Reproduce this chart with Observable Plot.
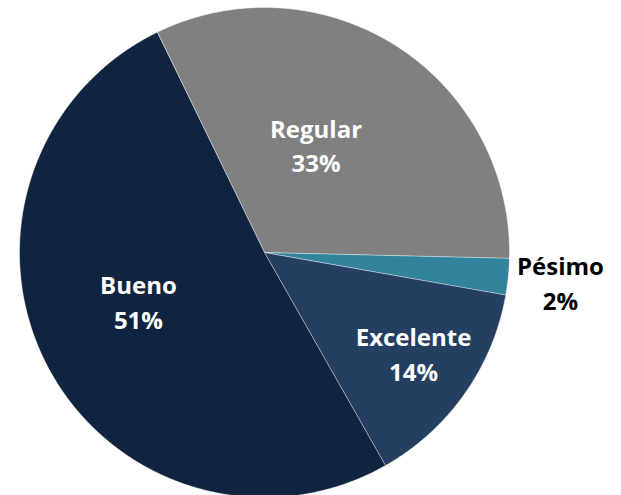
<!DOCTYPE html>
<html>
<head>
<meta charset="utf-8">
<script src="https://cdn.jsdelivr.net/npm/d3@7"></script>
<script src="https://cdn.jsdelivr.net/npm/@observablehq/plot@0.6"></script>
<style>
  html, body { margin: 0; padding: 0; background: #fff; }
  #chart svg { display: block; }
</style>
</head>
<body>
<div id="chart"></div>
<script>
// ---- data ----
const categories = ["Regular", "Pésimo", "Excelente", "Bueno"];
const shares = [32.6, 2.4, 14.0, 51.0];
const percentLabels = ["33%", "2%", "14%", "51%"];
const colors = ["#808080", "#31849B", "#243F60", "#10243F"];

// ---- layout (not data) ----
const startDeg = -26;
const labelLayout = {
  "Regular":   {r: 0.48, dAng: -6.7, inside: true},
  "Pésimo":    {r: 1.215, dAng: 0.5, inside: false},
  "Excelente": {r: 0.74, dAng: -0.5, inside: true},
  "Bueno":     {r: 0.555, dAng: 5.8, inside: true}
};

const rad = Math.PI / 180;
const pie = d3.pie().sort(null).value(d => d.share)
  .startAngle(startDeg * rad).endAngle((startDeg + 360) * rad);
const table = categories.map((name, i) => ({name, share: shares[i], label: percentLabels[i]}));
const arcs = pie(table);

// polygon points of each slice in unit coordinates (y up)
const points = [];
for (const a of arcs) {
  const name = a.data.name;
  points.push({name, x: 0, y: 0});
  const n = Math.max(2, Math.ceil((a.endAngle - a.startAngle) / rad / 0.5));
  for (let k = 0; k <= n; k++) {
    const t = a.startAngle + (a.endAngle - a.startAngle) * k / n;
    points.push({name, x: Math.sin(t), y: Math.cos(t)});
  }
}

const labels = arcs.map(a => {
  const L = labelLayout[a.data.name];
  const mid = (a.startAngle + a.endAngle) / 2 + L.dAng * rad;
  return {
    name: a.data.name,
    text: a.data.name + "\n" + a.data.label,
    x: L.r * Math.sin(mid),
    y: L.r * Math.cos(mid),
    inside: L.inside
  };
});

const font = "'Open Sans', 'DejaVu Sans', sans-serif";
const textOpts = {fontSize: 24, fontWeight: "bold", lineHeight: 1.45, fontFamily: font, dy: -3};

const chart = Plot.plot({
  width: 621,
  height: 495,
  margin: 0,
  style: {background: "#fff", fontFamily: font},
  x: {domain: [-1, 1], range: [19, 509], axis: null},
  y: {domain: [-1, 1], range: [497, 7], axis: null},
  color: {domain: categories, range: colors},
  marks: [
    Plot.line(points, {
      x: "x", y: "y", z: "name", fill: "name",
      stroke: "#ffffff", strokeOpacity: 0.55, strokeWidth: 0.8,
      curve: "linear-closed"
    }),
    Plot.text(labels.filter(d => d.inside), {
      x: "x", y: "y", text: "text", fill: "white", ...textOpts
    }),
    Plot.text(labels.filter(d => !d.inside), {
      x: "x", y: "y", text: "text", fill: "black", ...textOpts
    })
  ]
});
document.getElementById("chart").appendChild(chart);
</script>
</body>
</html>
